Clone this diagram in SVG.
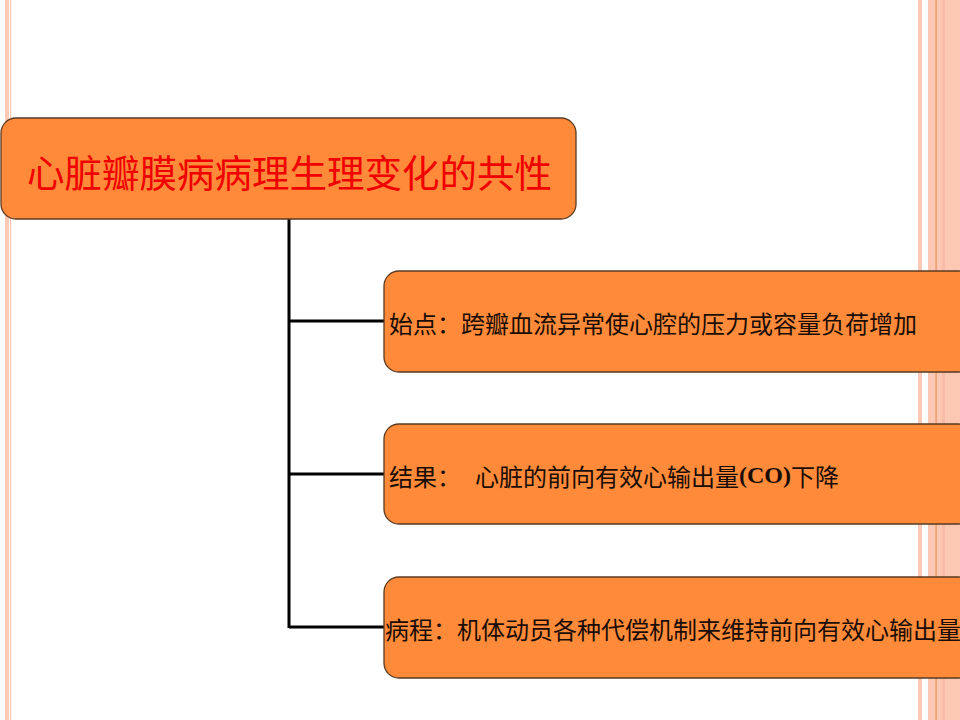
<svg xmlns="http://www.w3.org/2000/svg" width="960" height="720" viewBox="0 0 960 720">
<style>
.box{fill:#FF8A3A;stroke:#5a3a22;stroke-width:1.3}
.t{font-family:"Noto Sans CJK SC","Noto Sans",sans-serif;fill:#1a0d05;font-size:24px;dominant-baseline:central}
.title{font-family:"Noto Sans CJK SC","Noto Sans",sans-serif;fill:#F00000;font-size:37.5px;dominant-baseline:central}
.co{font-family:"Liberation Serif",serif;font-weight:bold}
.conn{stroke:#000;stroke-width:3;fill:none}
</style>
<rect width="960" height="720" fill="#fff"/>
<g id="frame">
<rect x="5" y="0" width="4" height="720" fill="#FBC9B6"/>
<rect x="10" y="0" width="1.2" height="720" fill="#FBC9B6"/>
<rect x="918" y="0" width="4" height="720" fill="#FBC9B6"/>
<rect x="928" y="0" width="32" height="720" fill="#FCC8B4"/>
<rect x="942" y="0" width="3" height="720" fill="#F8BCA6"/>
<rect x="935.5" y="0" width="1.2" height="720" fill="#E8935E"/>
</g>
<g id="connectors">
<path class="conn" d="M289 219V628M289 321H384M289 474H384M289 627H384"/>
</g>
<g id="root">
<rect class="box" x="1" y="118" width="575" height="101" rx="15"/>
<text class="title" x="27" y="170">心脏瓣膜病病理生理变化的共性</text>
</g>
<g id="start">
<rect class="box" x="384" y="271" width="590" height="101" rx="15"/>
<text class="t" x="389" y="322">始点：跨瓣血流异常使心腔的压力或容量负荷增加</text>
</g>
<g id="result">
<rect class="box" x="384" y="424" width="590" height="100" rx="15"/>
<text class="t" x="389" y="475">结果：<tspan x="475">心脏的前向有效心输出量</tspan><tspan class="co">(CO)</tspan>下降</text>
</g>
<g id="course">
<rect class="box" x="384" y="577" width="590" height="101" rx="15"/>
<text class="t" x="385" y="628">病程：机体动员各种代偿机制来维持前向有效心输出量</text>
</g>
</svg>
